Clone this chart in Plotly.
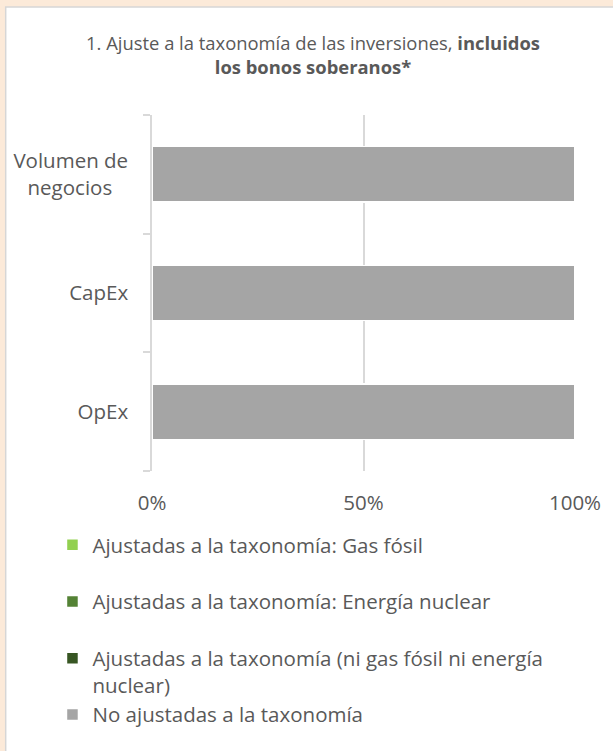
import plotly.graph_objects as go

# ---- data ----
categories = ["Volumen de negocios", "CapEx", "OpEx"]
tick_labels = ["Volumen de<br>negocios\u00a0\u00a0\u00a0", "CapEx", "OpEx"]
series_names = [
    "Ajustadas a la taxonomía: Gas fósil",
    "Ajustadas a la taxonomía: Energía nuclear",
    "Ajustadas a la taxonomía (ni gas fósil ni energía<br>nuclear)",
    "No ajustadas a la taxonomía",
]
gas_fosil = [0, 0, 0]
energia_nuclear = [0, 0, 0]
ajustadas_otras = [0, 0, 0]
no_ajustadas = [100, 100, 100]
x_tick_vals = [0, 50, 100]
x_tick_text = ["0%", "50%", "100%"]

series_values = [gas_fosil, energia_nuclear, ajustadas_otras, no_ajustadas]
colors = ["#92D050", "#548235", "#375623", "#A5A5A5"]
groups = ["g1", "g2", "g3", "g3"]

TXT = "#595959"
FONT = "Open Sans"
GRID = "#D9D9D9"
FS = 20.5

W, H = 613, 751
L, R, T, B = 152, 36, 115, 280

fig = go.Figure()
for name, vals, col, grp in zip(series_names, series_values, colors, groups):
    fig.add_trace(go.Bar(
        y=categories, x=vals, name=name, orientation="h",
        marker=dict(color=col, line=dict(color="white", width=1.5)),
        legendgroup=grp,
    ))

pw = W - L - R
ph = H - T - B
def px2x(p):
    return (p - L) / pw
def px2y(p):
    return 1 - (p - T) / ph

# white panel with light border on beige background
fig.add_shape(type="rect", xref="paper", yref="paper",
              x0=px2x(5), x1=px2x(W + 20), y0=px2y(H + 20), y1=px2y(7),
              fillcolor="white", line=dict(color="#D6D6D6", width=1.5), layer="below")

fig.update_layout(
    width=W, height=H,
    margin=dict(l=L, r=R, t=T, b=B, pad=0),
    paper_bgcolor="#FCEAD9",
    plot_bgcolor="rgba(0,0,0,0)",
    barmode="stack",
    bargap=0.534,
    font=dict(family=FONT, size=FS, color=TXT),
    title=dict(
        text="1. Ajuste a la taxonomía de las inversiones, <b>incluidos</b><br><b>los bonos soberanos*</b>",
        x=313 / W, xanchor="center", xref="container",
        y=1 - 50 / H, yanchor="top", yref="container",
        font=dict(family=FONT, size=18.4, color=TXT),
    ),
    showlegend=True,
    legend=dict(
        orientation="v", traceorder="grouped", tracegroupgap=27,
        valign="top",
        x=px2x(52), xanchor="left", y=px2y(525), yanchor="top",
        bgcolor="rgba(0,0,0,0)",
        font=dict(family=FONT, size=FS, color=TXT),
    ),
    xaxis=dict(
        range=[0, 100], tickvals=x_tick_vals, ticktext=x_tick_text,
        showgrid=True, gridcolor=GRID, gridwidth=1.5,
        zeroline=False, showline=False, ticks="",
        ticklabelstandoff=17,
        tickfont=dict(family=FONT, size=FS, color=TXT),
    ),
    yaxis=dict(
        categoryorder="array", categoryarray=categories,
        tickvals=categories, ticktext=tick_labels,
        autorange="reversed",
        showline=True, linecolor=GRID, linewidth=1.5,
        ticks="outside", ticklen=7, tickwidth=1.5, tickcolor=GRID,
        tickson="boundaries", showgrid=False, zeroline=False,
        ticklabelstandoff=18,
        tickfont=dict(family=FONT, size=FS, color=TXT),
    ),
)

fig.write_html(
    "out.html",
    config={"displayModeBar": False},
    post_script="document.body.style.margin='0';document.body.style.background='#FCEAD9';",
)
